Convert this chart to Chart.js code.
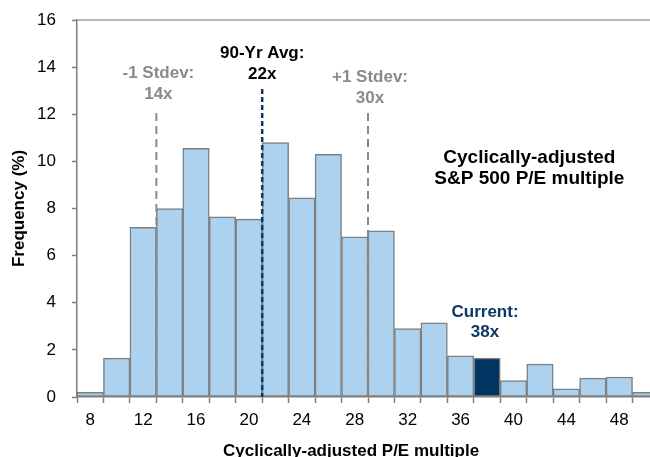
<!DOCTYPE html>
<html><head><meta charset="utf-8">
<script src="https://cdn.jsdelivr.net/npm/chart.js@4/dist/chart.umd.min.js"></script>
<style>
html,body{margin:0;padding:0;background:#fff;overflow:hidden;width:650px;height:457px}
#wrap{position:absolute;left:0;top:0;width:662px;height:457px}
</style>
</head><body><div id="wrap"><canvas id="c" width="662" height="457"></canvas></div>
<script>
// ---- data ----
const categories = ['8','10','12','14','16','18','20','22','24','26','28','30','32','34','36','38','40','42','44','46','48','50'];
const frequency = [0.2,1.65,7.2,8.0,10.55,7.65,7.55,10.8,8.45,10.3,6.8,7.05,2.9,3.15,1.75,1.65,0.7,1.4,0.35,0.8,0.85,0.2];
const xTickLabels = ['8','12','16','20','24','28','32','36','40','44','48'];
const yTickValues = [0,2,4,6,8,10,12,14,16];
const currentPE = '38';
const currentLabel = ['Current:', '38x'];
const refLineEdges = [13, 21, 29];
const refLineLabels = [['-1 Stdev:', '14x'], ['90-Yr Avg:', '22x'], ['+1 Stdev:', '30x']];
const chartTitle = ['Cyclically-adjusted', 'S&P 500 P/E multiple'];
const xTitle = 'Cyclically-adjusted P/E multiple';
const yTitle = 'Frequency (%)';

// ---- styles ----
const FONT = "'Liberation Sans', Arial, Helvetica, sans-serif";
const LIGHT = '#acd2ef', DARK = '#003561', EDGE = '#7f7f7f', NAVY = '#0b3866';
const lineStyles = [
  {color:'#8a8a8a', width:2, dash:[8,5], top:12.05, textY:13.54, dx:2, textColor:'#8a8a8a'},
  {color:NAVY, width:2.5, dash:[5,3], top:13.07, textY:14.39, dx:0, textColor:'#000'},
  {color:'#8a8a8a', width:2, dash:[8,5], top:12.05, textY:13.37, dx:2, textColor:'#8a8a8a'}
];

const catStart = Number(categories[0]);
const catStep = Number(categories[1]) - Number(categories[0]);
const edgeToIndex = v => (v - catStart) / catStep;

const annot = {
  id: 'annot',
  afterDatasetsDraw(chart) {
    const {ctx, chartArea: a, scales: {x, y}} = chart;
    ctx.save();
    // top frame line
    ctx.strokeStyle = '#a0a0a0'; ctx.lineWidth = 1.5;
    ctx.beginPath(); ctx.moveTo(a.left, a.top); ctx.lineTo(a.right, a.top); ctx.stroke();
    ctx.font = 'bold 17px ' + FONT;
    ctx.textAlign = 'center'; ctx.textBaseline = 'alphabetic';
    refLineEdges.forEach((e, i) => {
      const st = lineStyles[i];
      const px = x.getPixelForValue(edgeToIndex(e));
      ctx.setLineDash(st.dash); ctx.strokeStyle = st.color; ctx.lineWidth = st.width;
      ctx.beginPath(); ctx.moveTo(px, y.getPixelForValue(st.top)); ctx.lineTo(px, a.bottom); ctx.stroke();
      ctx.setLineDash([]);
      ctx.fillStyle = st.textColor;
      refLineLabels[i].forEach((t, j) => ctx.fillText(t, px + st.dx, y.getPixelForValue(st.textY) + j * 21));
    });
    // current label
    const ci = categories.indexOf(currentPE);
    const cx = x.getPixelForValue(ci) - 2;
    ctx.fillStyle = NAVY;
    currentLabel.forEach((t, j) => ctx.fillText(t, cx, y.getPixelForValue(3.38) + j * 19.5));
    // chart title
    ctx.font = 'bold 19px ' + FONT; ctx.fillStyle = '#000';
    chartTitle.forEach((t, j) => ctx.fillText(t, x.getPixelForValue(16.6), y.getPixelForValue(9.93) + j * 20.5));
    // x axis title
    ctx.font = 'bold 17px ' + FONT;
    ctx.fillText(xTitle, x.getPixelForValue(9.86), a.bottom + 59);
    ctx.restore();
  }
};

new Chart(document.getElementById('c'), {
  type: 'bar',
  data: {
    labels: categories,
    datasets: [{
      data: frequency,
      backgroundColor: categories.map(c => c === currentPE ? DARK : LIGHT),
      borderColor: EDGE,
      borderWidth: 1.5,
      borderSkipped: false,
      barPercentage: 1,
      categoryPercentage: 1
    }]
  },
  options: {
    responsive: false,
    animation: false,
    events: [],
    layout: {padding: {top: 20, right: 3, left: 0, bottom: 0}},
    plugins: {legend: {display: false}, tooltip: {enabled: false}},
    scales: {
      x: {
        offset: true,
        grid: {display: true, offset: true, drawOnChartArea: false, drawTicks: true, tickLength: 6, tickColor: EDGE, tickWidth: 1.5},
        border: {display: true, color: EDGE, width: 1.5},
        ticks: {
          autoSkip: false, maxRotation: 0, minRotation: 0, padding: 7, color: '#000',
          font: {family: FONT, size: 17},
          callback: (v, i) => xTickLabels.includes(categories[i]) ? categories[i] : ''
        },
        afterFit: s => { s.height = 60; s.paddingLeft = 0; s.paddingRight = 0; }
      },
      y: {
        min: yTickValues[0], max: yTickValues[yTickValues.length - 1],
        afterBuildTicks: s => { s.ticks = yTickValues.map(v => ({value: v})); },
        grid: {drawOnChartArea: false, drawTicks: true, tickLength: 5, tickColor: EDGE, tickWidth: 1.5},
        border: {display: true, color: EDGE, width: 1.5},
        ticks: {padding: 16, color: '#000', font: {family: FONT, size: 17}},
        title: {display: true, text: yTitle, color: '#000', font: {family: FONT, size: 17, weight: 'bold'}, padding: {top: 9, bottom: 0}},
        afterFit: s => { s.width = 77; s.paddingTop = 0; s.paddingBottom = 0; }
      }
    }
  },
  plugins: [annot]
});
</script>
</body></html>
